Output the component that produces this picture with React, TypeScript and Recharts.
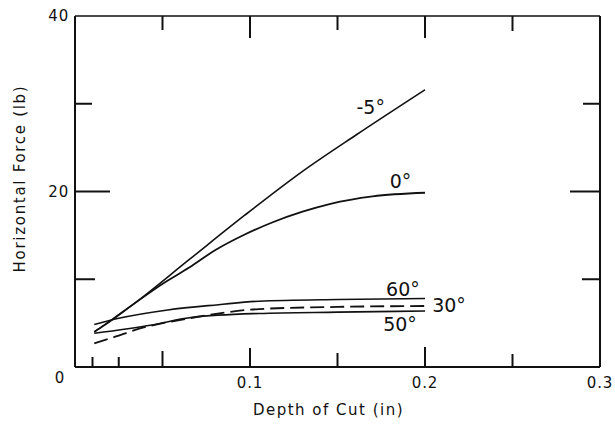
import React from 'react';
import { LineChart, Line, XAxis, YAxis, ReferenceDot } from 'recharts';

// curves (depth of cut in inches, force in lb)
const neg5X = [0.011, 0.017, 0.034, 0.065, 0.097, 0.13, 0.161, 0.2];
const neg5Y = [4.0, 4.8, 7.25, 12.2, 17.3, 22.3, 26.5, 31.6];

const zeroX = [0.011, 0.017, 0.034, 0.051, 0.065, 0.08, 0.097, 0.113, 0.13, 0.146, 0.17, 0.2];
const zeroY = [4.0, 4.8, 7.25, 9.6, 11.3, 13.3, 15.1, 16.5, 17.7, 18.6, 19.45, 19.86];

const sixtyX = [0.011, 0.025, 0.053, 0.082, 0.105, 0.15, 0.2];
const sixtyY = [4.85, 5.55, 6.5, 7.1, 7.5, 7.7, 7.8];

const thirtyX = [0.011, 0.023, 0.034, 0.067, 0.105, 0.15, 0.2];
const thirtyY = [2.7, 3.45, 4.2, 5.6, 6.6, 6.85, 6.95];

const fiftyX = [0.011, 0.044, 0.067, 0.105, 0.15, 0.2];
const fiftyY = [3.84, 4.79, 5.66, 6.1, 6.25, 6.38];

const xTicks = [0, 0.01, 0.025, 0.05, 0.1, 0.15, 0.2, 0.25, 0.3];
const xTickLabels: Record<string, string> = { '0': '0', '0.1': '0.1', '0.2': '0.2', '0.3': '0.3' };
const yTicks = [0, 10, 20, 30, 40];
const yTickLabels: Record<string, string> = { '20': '20', '40': '40' };

// tick mark lengths (px), all drawn inward
const bottomLen: Record<string, number> = { '0.01': 10, '0.025': 10, '0.05': 16, '0.1': 19, '0.15': 14, '0.2': 20, '0.25': 13 };
const topLen: Record<string, number> = { '0.05': 14, '0.1': 22, '0.15': 14, '0.2': 22, '0.25': 15 };
const leftLen: Record<string, number> = { '10': 20, '20': 35, '30': 17 };
const rightLen: Record<string, number> = { '10': 18, '20': 30, '30': 17 };

const INK = '#111';
const FONT = '"DejaVu Sans", sans-serif';

const toPoints = (xs: number[], ys: number[]) => xs.map((x, i) => ({ x, y: ys[i] }));

const BottomTick = ({ x, y, payload }: any) => {
    const key = String(payload.value);
    const len = bottomLen[key] || 0;
    const lab = xTickLabels[key];
    const isZero = payload.value === 0;
    return (
        <g>
            {len > 0 && <line x1={x} y1={y} x2={x} y2={y - len} stroke={INK} strokeWidth={2} />}
            {lab && (
                <text x={isZero ? x - 15 : x} y={isZero ? y + 16 : y + 21} textAnchor="middle"
                    fontSize={15} fontFamily={FONT} fill={INK} letterSpacing={0.8}>{lab}</text>
            )}
        </g>
    );
};

const TopTick = ({ x, y, payload }: any) => {
    const len = topLen[String(payload.value)] || 0;
    if (!len) return <g />;
    return <line x1={x} y1={y} x2={x} y2={y + len} stroke={INK} strokeWidth={2} />;
};

const LeftTick = ({ x, y, payload }: any) => {
    const key = String(payload.value);
    const len = leftLen[key] || 0;
    const lab = yTickLabels[key];
    return (
        <g>
            {len > 0 && <line x1={x} y1={y} x2={x + len} y2={y} stroke={INK} strokeWidth={2} />}
            {lab && (
                <text x={x - 6} y={y + 5} textAnchor="end" fontSize={15} fontFamily={FONT}
                    fill={INK} letterSpacing={0.8}>{lab}</text>
            )}
        </g>
    );
};

const RightTick = ({ x, y, payload }: any) => {
    const len = rightLen[String(payload.value)] || 0;
    if (!len) return <g />;
    return <line x1={x} y1={y} x2={x - len} y2={y} stroke={INK} strokeWidth={2} />;
};

const XTitle = ({ viewBox }: any) => (
    <text x={viewBox.x + viewBox.width / 2 - 9} y={viewBox.y + 48} textAnchor="middle"
        fontSize={15} fontFamily={FONT} fill={INK} letterSpacing={1.5}>Depth of Cut (in)</text>
);

const YTitle = ({ viewBox }: any) => {
    const cx = viewBox.x + viewBox.width - 55;
    const cy = viewBox.y + viewBox.height / 2 - 13;
    return (
        <text x={cx} y={cy} transform={`rotate(-90 ${cx} ${cy})`} textAnchor="middle" dominantBaseline="central"
            fontSize={15} fontFamily={FONT} fill={INK} letterSpacing={1.7}>Horizontal Force (lb)</text>
    );
};

const curveLabel = (value: string) => ({
    value,
    position: 'center' as const,
    fontSize: 19,
    fontFamily: FONT,
    fill: INK,
});

export default function App() {
    return (
        <div style={{ position: 'absolute', left: 0, top: 0, width: 615, height: 427, background: '#fff' }}>
            <LineChart width={615} height={427} margin={{ top: 15, right: 14, bottom: 59, left: 74 }}>
                <XAxis type="number" dataKey="x" domain={[0, 0.3]} ticks={xTicks} interval={0}
                    height={1} tickSize={0} tickMargin={0} tickLine={false} tick={<BottomTick />}
                    axisLine={{ stroke: INK, strokeWidth: 2 }} allowDataOverflow label={<XTitle />} />
                <XAxis xAxisId="top" orientation="top" type="number" dataKey="x" domain={[0, 0.3]} ticks={xTicks}
                    interval={0} height={1} tickSize={0} tickMargin={0} tickLine={false} tick={<TopTick />}
                    axisLine={{ stroke: INK, strokeWidth: 1.5 }} allowDataOverflow />
                <YAxis type="number" domain={[0, 40]} ticks={yTicks} interval={0} width={1}
                    tickSize={0} tickMargin={0} tickLine={false} tick={<LeftTick />}
                    axisLine={{ stroke: INK, strokeWidth: 2 }} allowDataOverflow label={<YTitle />} />
                <YAxis yAxisId="right" orientation="right" type="number" domain={[0, 40]} ticks={yTicks}
                    interval={0} width={1} tickSize={0} tickMargin={0} tickLine={false} tick={<RightTick />}
                    axisLine={{ stroke: INK, strokeWidth: 2 }} allowDataOverflow />

                <Line data={toPoints(neg5X, neg5Y)} dataKey="y" type="monotone" stroke={INK} strokeWidth={1.6}
                    dot={false} isAnimationActive={false} />
                <Line data={toPoints(zeroX, zeroY)} dataKey="y" type="monotone" stroke={INK} strokeWidth={1.8}
                    dot={false} isAnimationActive={false} />
                <Line data={toPoints(sixtyX, sixtyY)} dataKey="y" type="monotone" stroke={INK} strokeWidth={1.6}
                    dot={false} isAnimationActive={false} />
                <Line data={toPoints(thirtyX, thirtyY)} dataKey="y" type="monotone" stroke={INK} strokeWidth={1.8}
                    strokeDasharray="14 6" dot={false} isAnimationActive={false} />
                <Line data={toPoints(fiftyX, fiftyY)} dataKey="y" type="monotone" stroke={INK} strokeWidth={1.6}
                    dot={false} isAnimationActive={false} />

                <ReferenceDot x={0.169} y={29.6} r={1} fill="none" stroke="none" label={curveLabel('-5°')} />
                <ReferenceDot x={0.186} y={21.2} r={1} fill="none" stroke="none" label={curveLabel('0°')} />
                <ReferenceDot x={0.1874} y={8.9} r={1} fill="none" stroke="none" label={curveLabel('60°')} />
                <ReferenceDot x={0.2137} y={7.07} r={1} fill="none" stroke="none" label={curveLabel('30°')} />
                <ReferenceDot x={0.1857} y={4.9} r={1} fill="none" stroke="none" label={curveLabel('50°')} />
            </LineChart>
        </div>
    );
}
